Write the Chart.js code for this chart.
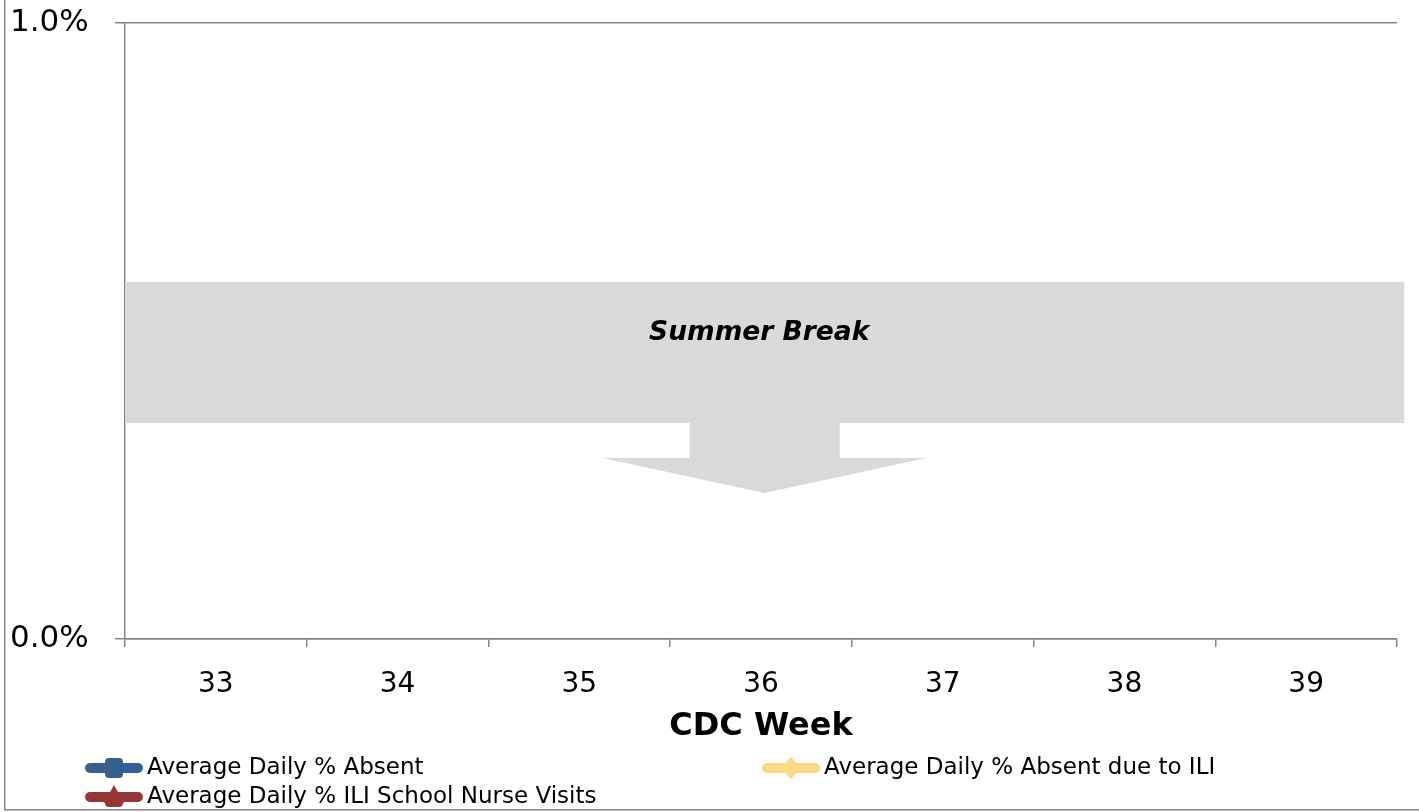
<!DOCTYPE html>
<html>
<head>
<meta charset="utf-8">
<script src="https://cdn.jsdelivr.net/npm/chart.js@4"></script>
<style>
  html, body { margin: 0; padding: 0; background: #fff; }
  canvas { display: block; }
</style>
</head>
<body>
<canvas id="chart" width="1419" height="812"></canvas>
<script>
// CDC weeks shown on the x axis (no school data during summer break)
const WEEKS = ['33', '34', '35', '36', '37', '38', '39'];
const ABSENT = [null, null, null, null, null, null, null];
const ABSENT_ILI = [null, null, null, null, null, null, null];
const NURSE_VISITS = [null, null, null, null, null, null, null];

const Y_MIN = 0;
const Y_MAX = 1.0;

// "Summer Break" callout, in data units (category index / percent)
const BREAK_LABEL = 'Summer Break';
const BREAK_X = [-0.5, 6.54];
const BREAK_Y = [0.3506, 0.5795];
const ARROW_CENTER = 3.02;
const ARROW_STEM_HALF = 0.413;
const ARROW_HEAD_HALF = 0.89;
const ARROW_STEM_BOTTOM = 0.2938;
const ARROW_TIP = 0.237;

const FONT = "'DejaVu Sans', Verdana, sans-serif";
const AXIS_GRAY = '#868686';
const SERIES = [
  { label: 'Average Daily % Absent', data: ABSENT, color: '#376092', marker: 'square' },
  { label: 'Average Daily % Absent due to ILI', data: ABSENT_ILI, color: '#f8da86', marker: 'diamond' },
  { label: 'Average Daily % ILI School Nurse Visits', data: NURSE_VISITS, color: '#953735', marker: 'triangle' }
];

// Grey band + down arrow drawn behind the (empty) series
const summerBreak = {
  id: 'summerBreak',
  beforeDatasetsDraw(chart) {
    const { ctx, scales: { x, y } } = chart;
    ctx.save();
    ctx.fillStyle = '#d9d9d9';
    const x0 = x.getPixelForValue(BREAK_X[0]), x1 = x.getPixelForValue(BREAK_X[1]);
    const yTop = y.getPixelForValue(BREAK_Y[1]), yBot = y.getPixelForValue(BREAK_Y[0]);
    ctx.fillRect(x0, yTop, x1 - x0, yBot - yTop);

    const sl = x.getPixelForValue(ARROW_CENTER - ARROW_STEM_HALF);
    const sr = x.getPixelForValue(ARROW_CENTER + ARROW_STEM_HALF);
    const hl = x.getPixelForValue(ARROW_CENTER - ARROW_HEAD_HALF);
    const hr = x.getPixelForValue(ARROW_CENTER + ARROW_HEAD_HALF);
    const cx = x.getPixelForValue(ARROW_CENTER);
    const stemBot = y.getPixelForValue(ARROW_STEM_BOTTOM);
    const tip = y.getPixelForValue(ARROW_TIP);
    ctx.beginPath();
    ctx.moveTo(sl, yBot - 0.5);
    ctx.lineTo(sr, yBot - 0.5);
    ctx.lineTo(sr, stemBot);
    ctx.lineTo(hr, stemBot);
    ctx.lineTo(cx, tip);
    ctx.lineTo(hl, stemBot);
    ctx.lineTo(sl, stemBot);
    ctx.closePath();
    ctx.fill();

    ctx.fillStyle = '#000';
    ctx.font = "italic bold 26.5px " + FONT;
    ctx.textAlign = 'center';
    ctx.textBaseline = 'middle';
    ctx.fillText(BREAK_LABEL, x.getPixelForValue(2.99), y.getPixelForValue(0.4967));
    ctx.restore();
  }
};

function drawMarker(ctx, kind, cx, cy, color) {
  ctx.fillStyle = color;
  ctx.beginPath();
  if (kind === 'square') {
    ctx.roundRect(cx - 9, cy - 10, 18, 20, 4);
  } else if (kind === 'diamond') {
    ctx.moveTo(cx, cy - 11);
    ctx.lineTo(cx + 10, cy);
    ctx.lineTo(cx, cy + 11);
    ctx.lineTo(cx - 10, cy);
    ctx.closePath();
  } else {
    ctx.moveTo(cx, cy - 12);
    ctx.lineTo(cx + 10, cy + 6);
    ctx.lineTo(cx - 10, cy + 6);
    ctx.closePath();
    ctx.roundRect(cx - 9, cy - 4, 18, 14, 4);
  }
  ctx.fill();
}

// Legend in two columns below the axis title, plus the outer frame lines
const sideLegend = {
  id: 'sideLegend',
  afterDraw(chart) {
    const { ctx } = chart;
    const spots = [[85, 768], [762, 768], [85, 797]];
    ctx.save();
    chart.data.datasets.forEach((ds, i) => {
      const [lx, ly] = spots[i];
      ctx.strokeStyle = ds.borderColor;
      ctx.lineWidth = 10;
      ctx.lineCap = 'round';
      ctx.beginPath();
      ctx.moveTo(lx + 5, ly);
      ctx.lineTo(lx + 53, ly);
      ctx.stroke();
      drawMarker(ctx, SERIES[i].marker, lx + 29, ly, ds.borderColor);
      ctx.fillStyle = '#000';
      ctx.font = '23px ' + FONT;
      ctx.textAlign = 'left';
      ctx.textBaseline = 'middle';
      ctx.fillText(ds.label, lx + 62, ly);
    });
    ctx.strokeStyle = AXIS_GRAY;
    ctx.lineWidth = 1.5;
    ctx.lineCap = 'butt';
    ctx.beginPath();
    ctx.moveTo(4.75, 0);
    ctx.lineTo(4.75, 809.75);
    ctx.lineTo(1419, 809.75);
    ctx.stroke();
    ctx.restore();
  }
};

new Chart(document.getElementById('chart'), {
  type: 'line',
  data: {
    labels: WEEKS,
    datasets: SERIES.map(s => ({
      label: s.label,
      data: s.data,
      borderColor: s.color,
      backgroundColor: s.color,
      borderWidth: 4,
      pointRadius: 5
    }))
  },
  options: {
    responsive: false,
    animation: false,
    layout: { padding: { left: 10, top: 23, right: 22, bottom: 64 } },
    plugins: {
      legend: { display: false },
      tooltip: { enabled: false }
    },
    scales: {
      x: {
        offset: true,
        grid: { offset: true, drawOnChartArea: false, tickLength: 8, color: AXIS_GRAY, lineWidth: 1.5 },
        border: { color: AXIS_GRAY, width: 1.5 },
        ticks: { color: '#000', font: { family: FONT, size: 28 }, padding: 21, maxRotation: 0 },
        title: { display: true, text: 'CDC Week', color: '#000', font: { family: FONT, size: 32, weight: 'bold' }, padding: { top: 0, bottom: 2 } },
        afterFit(scale) { scale.height = 109; }
      },
      y: {
        min: Y_MIN,
        max: Y_MAX,
        grid: { tickLength: 10, color: AXIS_GRAY, lineWidth: 1.5 },
        border: { color: AXIS_GRAY, width: 1.5 },
        ticks: {
          stepSize: 1,
          crossAlign: 'far',
          color: '#000',
          font: { family: FONT, size: 31 },
          callback: v => v.toFixed(1) + '%'
        },
        afterFit(scale) { scale.width = 115; }
      }
    }
  },
  plugins: [summerBreak, sideLegend]
});
</script>
</body>
</html>
